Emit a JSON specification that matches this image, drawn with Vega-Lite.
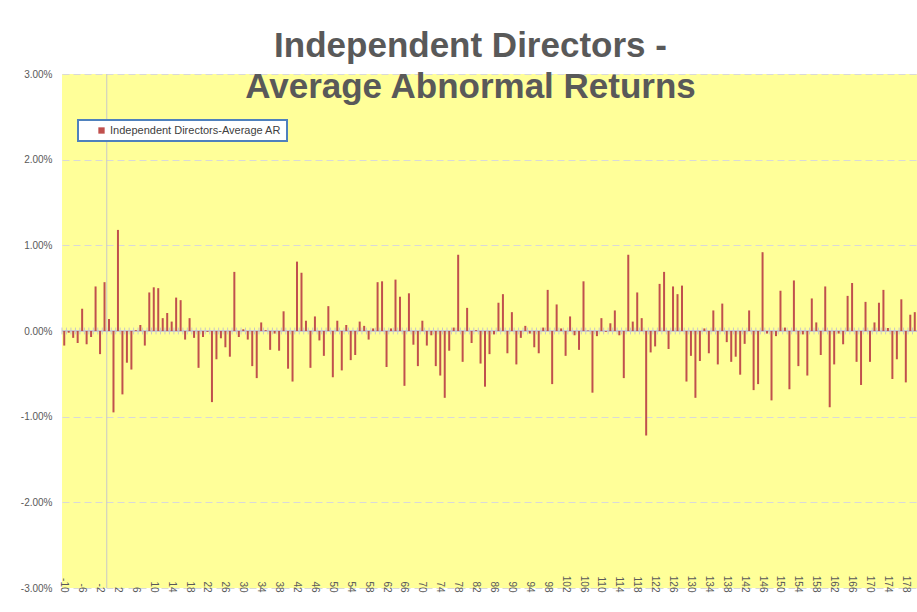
{
  "$schema": "https://vega.github.io/schema/vega-lite/v6.json",
  "autosize": "none",
  "width": 855,
  "height": 514,
  "padding": {"left": 62, "top": 74, "right": 0, "bottom": 24},
  "background": "white",
  "title": {
    "text": ["Independent Directors -", "Average Abnormal Returns"],
    "font": "Liberation Sans",
    "fontSize": 35,
    "fontWeight": "bold",
    "color": "#595959",
    "lineHeight": 41,
    "anchor": "middle",
    "frame": "group",
    "dx": -19,
    "offset": -36
  },
  "config": {
    "view": {"fill": "#FFFF99", "stroke": null},
    "font": "Liberation Sans",
    "legend": {"strokeWidth": 2}
  },
  "datasets": {
    "ar": [
      {"day": -10, "ar": -0.17}, {"day": -9, "ar": -0.02}, {"day": -8, "ar": -0.08}, {"day": -7, "ar": -0.14},
      {"day": -6, "ar": 0.26}, {"day": -5, "ar": -0.155}, {"day": -4, "ar": -0.07}, {"day": -3, "ar": 0.52},
      {"day": -2, "ar": -0.27}, {"day": -1, "ar": 0.57}, {"day": 0, "ar": 0.14}, {"day": 1, "ar": -0.95},
      {"day": 2, "ar": 1.18}, {"day": 3, "ar": -0.74}, {"day": 4, "ar": -0.37}, {"day": 5, "ar": -0.45},
      {"day": 6, "ar": 0.01}, {"day": 7, "ar": 0.07}, {"day": 8, "ar": -0.17}, {"day": 9, "ar": 0.45},
      {"day": 10, "ar": 0.51}, {"day": 11, "ar": 0.5}, {"day": 12, "ar": 0.15}, {"day": 13, "ar": 0.21},
      {"day": 14, "ar": 0.11}, {"day": 15, "ar": 0.39}, {"day": 16, "ar": 0.36}, {"day": 17, "ar": -0.1},
      {"day": 18, "ar": 0.15}, {"day": 19, "ar": -0.08}, {"day": 20, "ar": -0.43}, {"day": 21, "ar": -0.07},
      {"day": 22, "ar": -0.01}, {"day": 23, "ar": -0.83}, {"day": 24, "ar": -0.33}, {"day": 25, "ar": -0.085},
      {"day": 26, "ar": -0.19}, {"day": 27, "ar": -0.3}, {"day": 28, "ar": 0.69}, {"day": 29, "ar": -0.07},
      {"day": 30, "ar": 0.02}, {"day": 31, "ar": -0.1}, {"day": 32, "ar": -0.41}, {"day": 33, "ar": -0.55},
      {"day": 34, "ar": 0.1}, {"day": 35, "ar": 0.01}, {"day": 36, "ar": -0.22}, {"day": 37, "ar": -0.03},
      {"day": 38, "ar": -0.23}, {"day": 39, "ar": 0.23}, {"day": 40, "ar": -0.44}, {"day": 41, "ar": -0.59},
      {"day": 42, "ar": 0.81}, {"day": 43, "ar": 0.68}, {"day": 44, "ar": 0.12}, {"day": 45, "ar": -0.43},
      {"day": 46, "ar": 0.17}, {"day": 47, "ar": -0.11}, {"day": 48, "ar": -0.29}, {"day": 49, "ar": 0.29},
      {"day": 50, "ar": -0.54}, {"day": 51, "ar": 0.12}, {"day": 52, "ar": -0.46}, {"day": 53, "ar": 0.07},
      {"day": 54, "ar": -0.34}, {"day": 55, "ar": -0.28}, {"day": 56, "ar": 0.11}, {"day": 57, "ar": 0.06},
      {"day": 58, "ar": -0.1}, {"day": 59, "ar": 0.03}, {"day": 60, "ar": 0.57}, {"day": 61, "ar": 0.58},
      {"day": 62, "ar": -0.42}, {"day": 63, "ar": 0.03}, {"day": 64, "ar": 0.6}, {"day": 65, "ar": 0.4},
      {"day": 66, "ar": -0.64}, {"day": 67, "ar": 0.44}, {"day": 68, "ar": -0.16}, {"day": 69, "ar": -0.41},
      {"day": 70, "ar": 0.12}, {"day": 71, "ar": -0.17}, {"day": 72, "ar": -0.05}, {"day": 73, "ar": -0.41},
      {"day": 74, "ar": -0.52}, {"day": 75, "ar": -0.78}, {"day": 76, "ar": -0.23}, {"day": 77, "ar": 0.04},
      {"day": 78, "ar": 0.89}, {"day": 79, "ar": -0.36}, {"day": 80, "ar": 0.27}, {"day": 81, "ar": -0.14},
      {"day": 82, "ar": 0.01}, {"day": 83, "ar": -0.38}, {"day": 84, "ar": -0.65}, {"day": 85, "ar": -0.27},
      {"day": 86, "ar": -0.04}, {"day": 87, "ar": 0.33}, {"day": 88, "ar": 0.43}, {"day": 89, "ar": -0.26},
      {"day": 90, "ar": 0.22}, {"day": 91, "ar": -0.39}, {"day": 92, "ar": -0.08}, {"day": 93, "ar": 0.06},
      {"day": 94, "ar": -0.03}, {"day": 95, "ar": -0.19}, {"day": 96, "ar": -0.26}, {"day": 97, "ar": 0.04},
      {"day": 98, "ar": 0.48}, {"day": 99, "ar": -0.62}, {"day": 100, "ar": 0.31}, {"day": 101, "ar": 0.03},
      {"day": 102, "ar": -0.29}, {"day": 103, "ar": 0.17}, {"day": 104, "ar": -0.05}, {"day": 105, "ar": -0.22},
      {"day": 106, "ar": 0.58}, {"day": 107, "ar": 0.005}, {"day": 108, "ar": -0.72}, {"day": 109, "ar": -0.06},
      {"day": 110, "ar": 0.15}, {"day": 111, "ar": -0.01}, {"day": 112, "ar": 0.09}, {"day": 113, "ar": 0.24},
      {"day": 114, "ar": -0.05}, {"day": 115, "ar": -0.55}, {"day": 116, "ar": 0.89}, {"day": 117, "ar": 0.11},
      {"day": 118, "ar": 0.45}, {"day": 119, "ar": 0.15}, {"day": 120, "ar": -1.22}, {"day": 121, "ar": -0.25},
      {"day": 122, "ar": -0.18}, {"day": 123, "ar": 0.55}, {"day": 124, "ar": 0.69}, {"day": 125, "ar": -0.21},
      {"day": 126, "ar": 0.52}, {"day": 127, "ar": 0.43}, {"day": 128, "ar": 0.53}, {"day": 129, "ar": -0.59},
      {"day": 130, "ar": -0.29}, {"day": 131, "ar": -0.78}, {"day": 132, "ar": -0.35}, {"day": 133, "ar": 0.03},
      {"day": 134, "ar": -0.26}, {"day": 135, "ar": 0.24}, {"day": 136, "ar": -0.39}, {"day": 137, "ar": 0.32},
      {"day": 138, "ar": -0.13}, {"day": 139, "ar": -0.36}, {"day": 140, "ar": -0.3}, {"day": 141, "ar": -0.51},
      {"day": 142, "ar": -0.15}, {"day": 143, "ar": 0.24}, {"day": 144, "ar": -0.69}, {"day": 145, "ar": -0.62},
      {"day": 146, "ar": 0.92}, {"day": 147, "ar": -0.03}, {"day": 148, "ar": -0.81}, {"day": 149, "ar": -0.06},
      {"day": 150, "ar": 0.47}, {"day": 151, "ar": 0.04}, {"day": 152, "ar": -0.68}, {"day": 153, "ar": 0.59},
      {"day": 154, "ar": -0.41}, {"day": 155, "ar": -0.04}, {"day": 156, "ar": -0.52}, {"day": 157, "ar": 0.38},
      {"day": 158, "ar": 0.1}, {"day": 159, "ar": -0.28}, {"day": 160, "ar": 0.52}, {"day": 161, "ar": -0.89},
      {"day": 162, "ar": -0.39}, {"day": 163, "ar": -0.03}, {"day": 164, "ar": -0.155}, {"day": 165, "ar": 0.41},
      {"day": 166, "ar": 0.56}, {"day": 167, "ar": -0.36}, {"day": 168, "ar": -0.63}, {"day": 169, "ar": 0.34},
      {"day": 170, "ar": -0.36}, {"day": 171, "ar": 0.1}, {"day": 172, "ar": 0.33}, {"day": 173, "ar": 0.48},
      {"day": 174, "ar": 0.035}, {"day": 175, "ar": -0.56}, {"day": 176, "ar": -0.33}, {"day": 177, "ar": 0.37},
      {"day": 178, "ar": -0.6}, {"day": 179, "ar": 0.19}, {"day": 180, "ar": 0.22}
    ],
    "eventday": [{"day": 0}]
  },
  "data": {"name": "ar"},
  "layer": [
    {
      "data": {"name": "eventday"},
      "mark": {"type": "rule", "color": "#C8C8C8", "strokeWidth": 1},
      "encoding": {
        "x": {"field": "day", "type": "ordinal", "bandPosition": 0}
      }
    },
    {
      "mark": {"type": "rule", "color": "#C8C8C8", "strokeWidth": 1},
      "encoding": {
        "y": {"datum": 0, "type": "quantitative"}
      }
    },
    {
      "mark": {"type": "rule", "color": "#C8C8C8", "strokeWidth": 1},
      "encoding": {
        "x": {"field": "day", "type": "ordinal", "bandPosition": 0},
        "y": {"datum": -0.04, "type": "quantitative"},
        "y2": {"datum": 0.04}
      }
    },
    {
      "mark": {"type": "bar", "size": 2},
      "encoding": {
        "x": {
          "field": "day",
          "type": "ordinal",
          "scale": {"paddingInner": 0, "paddingOuter": 0},
          "axis": {
            "title": null,
            "values": [-10, -6, -2, 2, 6, 10, 14, 18, 22, 26, 30, 34, 38, 42, 46, 50, 54, 58, 62, 66, 70, 74, 78, 82, 86, 90, 94, 98, 102, 106, 110, 114, 118, 122, 126, 130, 134, 138, 142, 146, 150, 154, 158, 162, 166, 170, 174, 178],
            "labelAngle": 90,
            "labelFontSize": 10,
            "labelColor": "#595959",
            "labelPadding": 4,
            "ticks": false,
            "domain": false,
            "grid": false
          }
        },
        "y": {
          "field": "ar",
          "type": "quantitative",
          "scale": {"domain": [-3, 3], "nice": false},
          "axis": {
            "title": null,
            "values": [-3, -2, -1, 0, 1, 2, 3],
            "labelExpr": "(datum.value < 0 ? '-' : '') + format(abs(datum.value), '.2f') + '%'",
            "labelFontSize": 10,
            "labelColor": "#595959",
            "labelPadding": 10,
            "ticks": false,
            "domain": false,
            "grid": true,
            "gridColor": "#D9D9D9",
            "gridDash": [7, 4],
            "gridWidth": 1.2
          }
        },
        "color": {
          "datum": "Independent Directors-Average AR",
          "scale": {"range": ["#C0504D"]},
          "legend": {
            "title": null,
            "orient": "none",
            "legendX": 16,
            "legendY": 46,
            "fillColor": "white",
            "strokeColor": "#4F81BD",
            "padding": 5,
            "symbolType": "square",
            "symbolSize": 40,
            "symbolStrokeWidth": 0,
            "symbolOffset": 13,
            "labelOffset": 3,
            "labelFontSize": 11,
            "labelColor": "#404040",
            "labelLimit": 400
          }
        }
      }
    }
  ]
}
